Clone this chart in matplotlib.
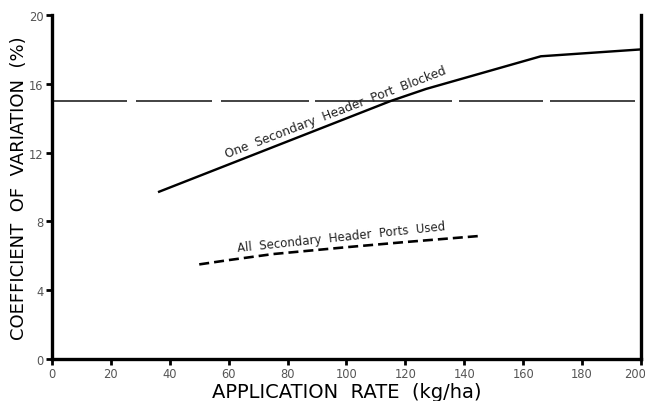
import matplotlib
matplotlib.use("Agg")
import matplotlib.pyplot as plt
from matplotlib.transforms import ScaledTranslation

# Data
blocked_x = [36, 115, 127, 166, 200]
blocked_y = [9.7, 15.0, 15.7, 17.6, 18.0]
used_x = [50, 60, 75, 100, 120, 145]
used_y = [5.5, 5.75, 6.1, 6.5, 6.8, 7.15]
ref_x = [0, 200]
ref_y = [15, 15]
xticks = [0, 20, 40, 60, 80, 100, 120, 140, 160, 180, 200]
yticks = [0, 4, 8, 12, 16, 20]

plt.rcParams['lines.scale_dashes'] = False
plt.rcParams['font.family'] = ['DejaVu Sans']

fig = plt.figure(figsize=(6.45, 4.02), dpi=100)
ax = fig.add_axes([0.0806, 0.1045, 0.9132, 0.8557])

px = 0.72  # points per pixel
ref_pattern = [75, 9, 76, 9, 88, 6, 137, 7, 84, 7, 85, 5]
ax.plot(ref_x, ref_y, color='#1a1a1a', lw=1.6 * px,
        dashes=[v * px for v in ref_pattern])
ax.plot(blocked_x, blocked_y, color='black', lw=2.4 * px, solid_capstyle='butt')
ax.plot(used_x, used_y, color='black', lw=2.6 * px, dashes=(10 * px, 5 * px))

ax.set_xlim(0, 200)
ax.set_ylim(0, 20)
ax.set_xticks(xticks)
ax.set_yticks(yticks)
ax.tick_params(axis='both', direction='out', length=4, width=2, labelsize=8.3,
               labelcolor='#555555', pad=2)

# keep the last x tick label inside the figure
last = ax.get_xticklabels()[-1]
last.set_horizontalalignment('right')
last.set_transform(last.get_transform() + ScaledTranslation(5 / 100, 0, fig.dpi_scale_trans))

for s in ['left', 'bottom', 'right']:
    ax.spines[s].set_linewidth(2.4)
ax.spines['top'].set_visible(False)

ax.set_ylabel('COEFFICIENT  OF  VARIATION  (%)', fontsize=13, labelpad=1, color='black')
ax.set_xlabel('APPLICATION  RATE  (kg/ha)', fontsize=14, labelpad=1, color='black')

ax.text(59.5, 11.75, 'One  Secondary  Header  Port  Blocked', rotation=21,
        rotation_mode='anchor', ha='left', va='baseline', fontsize=8.7, color='#222222')
ax.text(63, 6.3, 'All  Secondary  Header  Ports  Used', rotation=6,
        rotation_mode='anchor', ha='left', va='baseline', fontsize=8.5, color='#222222')

fig.savefig('out.png', dpi=100)
